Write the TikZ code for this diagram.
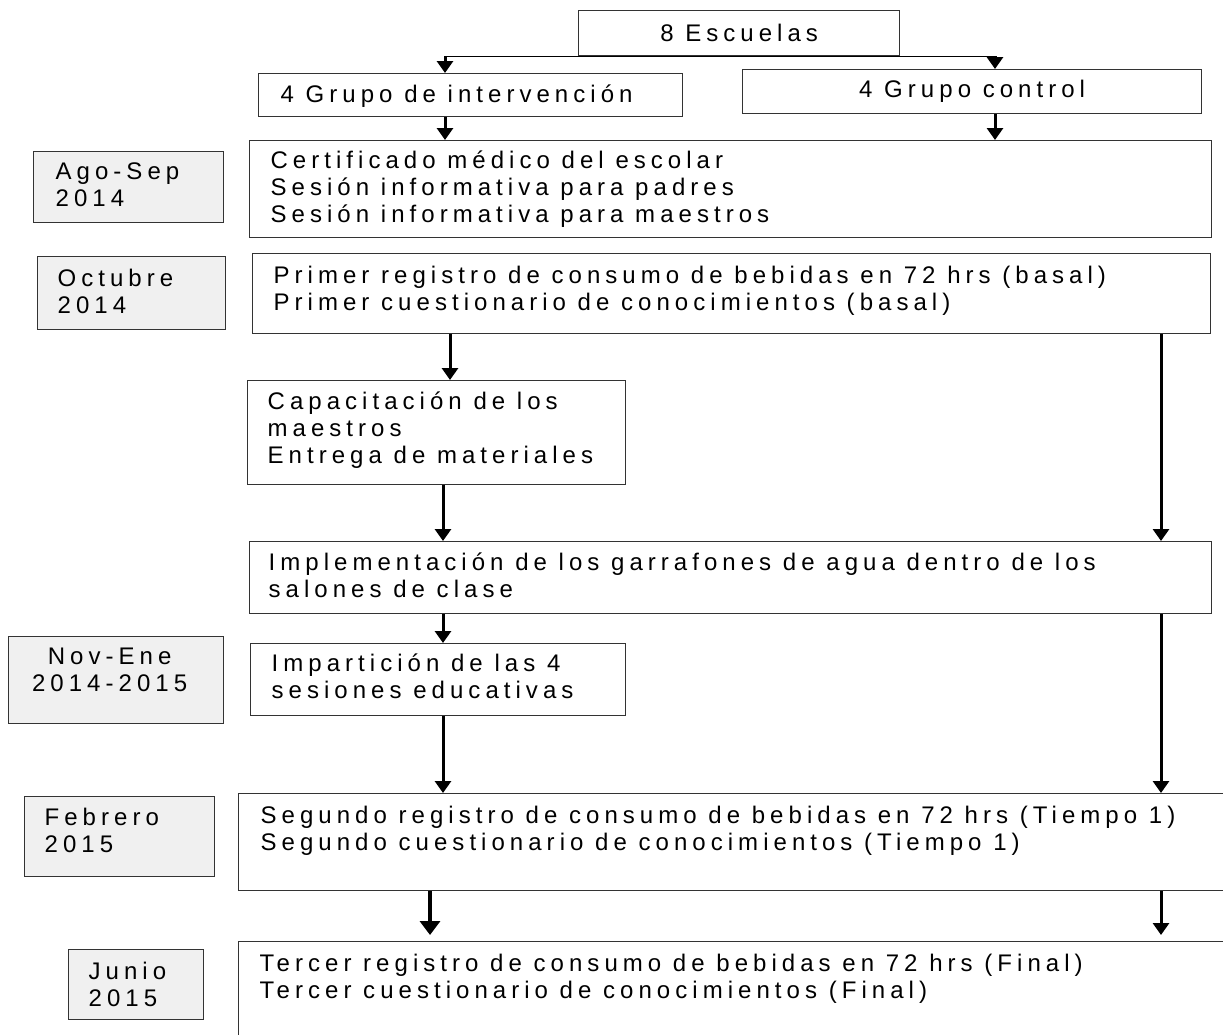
\documentclass[tikz,border=0pt]{standalone}
\usepackage{fontspec}
\setmainfont{Liberation Sans}[LetterSpace=21]
\usetikzlibrary{arrows.meta}
\definecolor{datefill}{HTML}{F0F0F0}
\definecolor{edge}{HTML}{333333}
% text block: width, height, left pad, first-baseline offset, lines
\newcommand\tb[5]{\parbox[c][#2][t]{#1}{\vspace*{\dimexpr#4-18.9pt\relax}\hspace*{#3}\begin{tabular}[t]{@{}l@{}}#5\end{tabular}}}
\newcommand\tbc[5]{\parbox[c][#2][t]{#1}{\centering\vspace*{\dimexpr#4-18.9pt\relax}\hspace*{#3}\begin{tabular}[t]{@{}c@{}}#5\end{tabular}\par}}
\tikzset{
  box/.style={draw=edge, line width=1.3pt, fill=white, inner sep=0pt, anchor=north west,
    font=\fontsize{24}{27}\selectfont, text=black},
  datebox/.style={box, fill=datefill},
  arr/.style={draw=black, line width=3pt, -{Triangle[width=16pt,length=12pt]}},
  bigarr/.style={draw=black, line width=4.5pt, -{Triangle[width=20pt,length=14pt]}},
}
\begin{document}
\begin{tikzpicture}[x=1pt,y=-1pt]
\useasboundingbox (0,0) rectangle (1223,1034);
\clip (0,0) rectangle (1223,1034);
\fill[white] (0,0) rectangle (1223,1034);

% main boxes
\node[box, minimum width=321pt, minimum height=45pt] (esc) at (578,10) {8 Escuelas};
\node[box] (gi) at (258,73) {\tb{424pt}{43pt}{22pt}{29pt}{4 Grupo de intervención}};
\node[box, minimum width=459pt, minimum height=44pt] (gc) at (742,69) {4 Grupo control};
\node[box] (cert) at (249,140) {\tb{962pt}{97pt}{21pt}{28pt}{Certificado médico del escolar\\Sesión informativa para padres\\Sesión informativa para maestros}};
\node[box] (prim) at (252,253) {\tb{958pt}{80pt}{21pt}{30pt}{Primer registro de consumo de bebidas en 72 hrs (basal)\\Primer cuestionario de conocimientos (basal)}};
\node[box] (cap) at (247,380) {\tb{378pt}{104pt}{20pt}{29pt}{Capacitación de los\\maestros\\Entrega de materiales}};
\node[box] (impl) at (249,541) {\tb{962pt}{72pt}{19pt}{29pt}{Implementación de los garrafones de agua dentro de los\\salones de clase}};
\node[box] (impar) at (250,643) {\tb{375pt}{72pt}{21pt}{28pt}{Impartición de las 4\\sesiones educativas}};
\node[box] (seg) at (238,793) {\tb{1010pt}{97pt}{22pt}{30pt}{Segundo registro de consumo de bebidas en 72 hrs (Tiempo 1)\\Segundo cuestionario de conocimientos (Tiempo 1)}};
\node[box] (terc) at (238,941) {\tb{1010pt}{120pt}{21pt}{30pt}{Tercer registro de consumo de bebidas en 72 hrs (Final)\\Tercer cuestionario de conocimientos (Final)}};

% date boxes
\node[datebox] (ago) at (33,151) {\tb{190pt}{71pt}{22pt}{28pt}{Ago-Sep\\2014}};
\node[datebox] (oct) at (37,256) {\tb{188pt}{73pt}{20pt}{30pt}{Octubre\\2014}};
\node[datebox] (nov) at (8,636) {\tbc{215pt}{87pt}{-13pt}{28pt}{Nov-Ene\\2014-2015}};
\node[datebox] (feb) at (24,796) {\tb{190pt}{80pt}{20pt}{29pt}{Febrero\\2015}};
\node[datebox] (jun) at (68,949) {\tb{135pt}{70pt}{20pt}{30pt}{Junio\\2015}};

% connector points
\coordinate (gin) at ([xshift=187pt]gi.north west);
\coordinate (gcn) at ([xshift=253pt]gc.north west);
\coordinate (gis) at ([xshift=187pt]gi.south west);
\coordinate (gcs) at ([xshift=253pt]gc.south west);
\coordinate (pl) at ([xshift=198pt]prim.south west);
\coordinate (pr) at ([xshift=909pt]prim.south west);
\coordinate (cs) at ([xshift=196pt]cap.south west);
\coordinate (il) at ([xshift=194pt]impl.south west);
\coordinate (ir) at ([xshift=912pt]impl.south west);
\coordinate (ms) at ([xshift=193pt]impar.south west);
\coordinate (sl) at ([xshift=192pt]seg.south west);
\coordinate (sr) at ([xshift=923pt]seg.south west);

% connectors
\draw[black, line width=1.5pt] (gin |- esc.south) -- (gcn |- esc.south);
\draw[arr] (gin |- esc.south) -- (gin);
\draw[arr] (gcn |- esc.south) -- (gcn);
\draw[arr] (gis) -- (gis |- cert.north);
\draw[arr] (gcs) -- (gcs |- cert.north);
\draw[arr] (pl) -- (pl |- cap.north);
\draw[arr] (pr) -- (pr |- impl.north);
\draw[arr] (cs) -- (cs |- impl.north);
\draw[arr] (il) -- (il |- impar.north);
\draw[arr] (ir) -- (ir |- seg.north);
\draw[arr] (ms) -- (ms |- seg.north);
\draw[bigarr, shorten >=6pt] (sl) -- (sl |- terc.north);
\draw[arr, shorten >=6pt] (sr) -- (sr |- terc.north);
\end{tikzpicture}
\end{document}
